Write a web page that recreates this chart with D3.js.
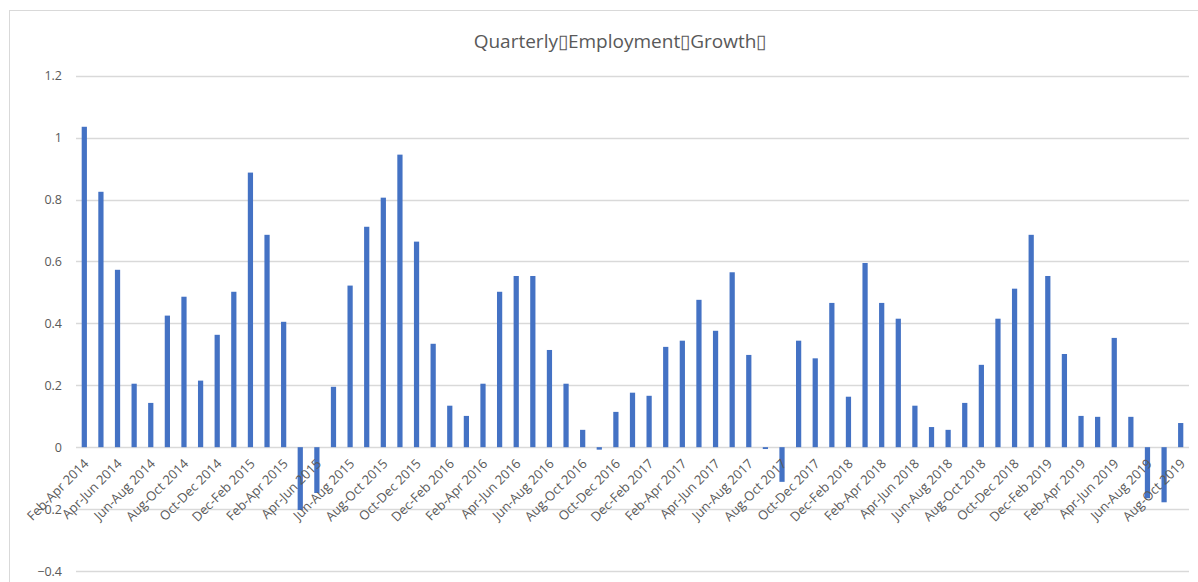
<!DOCTYPE html>
<html>
<head>
<meta charset="utf-8">
<script src="https://cdn.jsdelivr.net/npm/d3@7"></script>
<style>
  html, body { margin: 0; padding: 0; background: #fff; }
  svg { display: block; }
  text { font-family: "Open Sans", "Noto Sans", sans-serif; fill: #595959; }
</style>
</head>
<body>
<div id="chart"></div>
<script>
// Rolling three-month periods, Feb-Apr 2014 through Aug-Oct 2019
const months = ["Jan","Feb","Mar","Apr","May","Jun","Jul","Aug","Sep","Oct","Nov","Dec"];
const periods = [];
for (let k = 0; k < 67; k++) {
  const s = 1 + k;                 // start month index counted from Jan 2014
  const e = s + 2;
  const endYear = 2014 + Math.floor(e / 12);
  periods.push(months[s % 12] + "-" + months[e % 12] + " " + endYear);
}

// Quarterly employment growth (%)
const growth = [
  1.035, 0.825, 0.573, 0.205, 0.143, 0.425, 0.486, 0.215, 0.363, 0.502,
  0.887, 0.686, 0.405, -0.203, -0.148, 0.195, 0.522, 0.712, 0.806, 0.945,
  0.664, 0.334, 0.134, 0.101, 0.205, 0.502, 0.553, 0.553, 0.314, 0.205,
  0.056, -0.008, 0.114, 0.176, 0.166, 0.324, 0.344, 0.476, 0.376, 0.565,
  0.298, -0.006, -0.112, 0.344, 0.287, 0.466, 0.163, 0.595, 0.466, 0.415,
  0.134, 0.065, 0.056, 0.143, 0.266, 0.415, 0.512, 0.686, 0.553, 0.301,
  0.101, 0.098, 0.353, 0.098, -0.165, -0.178, 0.078
];

const yTicks = [-0.4, -0.2, 0, 0.2, 0.4, 0.6, 0.8, 1, 1.2];
const title = "Quarterly\u25AFEmployment\u25AFGrowth\u25AF";

const W = 1198, H = 582;
const plot = { left: 76, right: 1189, top: 75.7, bottom: 571 };

const svg = d3.select("#chart").append("svg")
  .attr("width", W).attr("height", H);

// chart area frame
svg.append("rect")
  .attr("x", 9.5).attr("y", 10.5)
  .attr("width", 1200).attr("height", 600)
  .attr("fill", "#fff").attr("stroke", "#d9d9d9").attr("stroke-width", 1);

const x = d3.scaleBand()
  .domain(periods)
  .range([plot.left, plot.right])
  .paddingInner(0.685)
  .paddingOuter(0.3425);

const y = d3.scaleLinear()
  .domain([-0.4, 1.2])
  .range([plot.bottom, plot.top]);

// horizontal gridlines
svg.append("g").selectAll("line")
  .data(yTicks)
  .join("line")
  .attr("x1", plot.left).attr("x2", plot.right)
  .attr("y1", d => Math.round(y(d)) + 0.5)
  .attr("y2", d => Math.round(y(d)) + 0.5)
  .attr("stroke", "#d9d9d9").attr("stroke-width", 1.3);

// y axis labels
const yAxis = d3.axisLeft(y).tickValues(yTicks).tickSize(0).tickPadding(0)
  .tickFormat(d => d3.format("")(Math.round(d * 10) / 10));
const gy = svg.append("g")
  .attr("transform", `translate(${plot.left - 14},0)`)
  .call(yAxis);
gy.select(".domain").remove();
gy.selectAll("text")
  .style("font-size", "12.5px")
  .attr("fill", "#595959")
  .style("font-family", "'Open Sans', sans-serif");

// bars
svg.append("g").selectAll("rect")
  .data(growth)
  .join("rect")
  .attr("x", (d, i) => x(periods[i]))
  .attr("width", x.bandwidth())
  .attr("y", d => y(Math.max(0, d)))
  .attr("height", d => Math.abs(y(d) - y(0)))
  .attr("fill", "#4472c4");

// category labels, every other period, rotated along the zero line
const y0 = y(0);
svg.append("g").selectAll("text")
  .data(periods.filter((p, i) => i % 2 === 0))
  .join("text")
  .attr("transform", p => `translate(${x(p) + x.bandwidth() / 2 + 2},${y0 + 14}) rotate(-45)`)
  .attr("text-anchor", "end")
  .attr("dy", "0.35em")
  .style("font-size", "13px")
  .text(p => p);

// title
svg.append("text")
  .attr("x", 620).attr("y", 48)
  .attr("text-anchor", "middle")
  .style("font-size", "19px")
  .text(title);
</script>
</body>
</html>
